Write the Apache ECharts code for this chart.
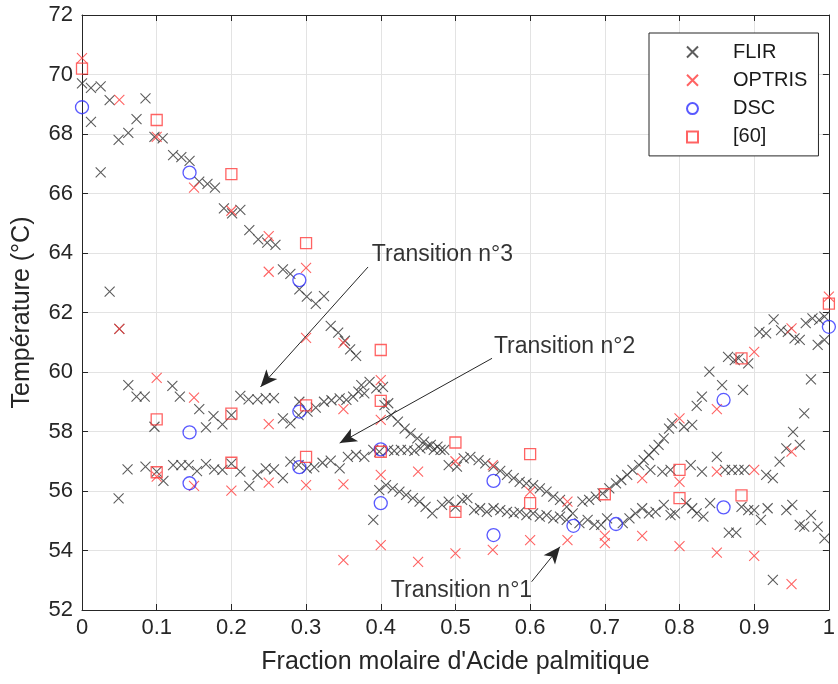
<!DOCTYPE html>
<html>
<head>
<meta charset="utf-8">
<script src="https://cdn.jsdelivr.net/npm/echarts@6/dist/echarts.min.js"></script>
<style>
html,body{margin:0;padding:0;background:#fff;}
#chart{width:838px;height:684px;}
</style>
</head>
<body>
<div id="chart"></div>
<script>
// ---------- DATA ----------
const seriesNames = ['FLIR', 'OPTRIS', 'DSC', '[60]'];

const flirData = [
  [0.0,69.7],[0.012,69.55],[0.025,69.6],[0.037,69.14],[0.012,68.41],[0.025,66.71],
  [0.049,67.8],[0.062,68.04],[0.073,68.5],[0.085,69.2],
  [0.097,67.9],[0.108,67.85],[0.122,67.29],[0.133,67.22],[0.144,67.1],
  [0.157,66.4],[0.168,66.32],[0.178,66.2],[0.19,65.5],[0.201,65.33],[0.212,65.45],
  [0.224,64.77],[0.236,64.46],[0.248,64.35],[0.259,64.27],[0.269,63.45],[0.279,63.3],
  [0.291,62.78],[0.301,62.53],[0.313,62.29],[0.324,62.55],
  [0.333,61.55],[0.343,61.32],[0.352,61.05],[0.359,60.76],[0.367,60.54],
  [0.037,62.7],[0.05,61.45],
  [0.062,59.56],[0.073,59.17],[0.084,59.17],[0.121,59.53],[0.131,59.17],
  [0.157,58.75],[0.176,58.52],
  [0.212,59.2],[0.223,59.08],[0.235,59.08],[0.246,59.12],[0.257,59.12],[0.291,59.0],
  [0.302,58.67],[0.313,58.8],[0.324,59.0],[0.334,59.05],[0.345,59.11],[0.354,59.06],
  [0.363,59.17],[0.37,59.34],[0.374,59.56],[0.378,59.28],[0.385,59.67],[0.394,59.45],
  [0.403,59.5],[0.41,58.95],
  [0.097,58.16],[0.166,58.14],[0.188,58.24],[0.2,58.55],[0.269,58.44],[0.279,58.27],[0.29,58.55],
  [0.405,58.89],[0.414,58.55],[0.423,58.33],[0.432,58.1],[0.44,57.94],[0.449,57.77],
  [0.458,57.66],[0.467,57.55],[0.476,57.49],[0.485,57.38],
  [0.049,55.75],[0.061,56.73],[0.085,56.82],[0.1,56.65],[0.109,56.34],[0.122,56.87],
  [0.133,56.87],[0.143,56.87],[0.154,56.67],[0.166,56.9],[0.177,56.73],[0.188,56.71],
  [0.2,56.92],[0.212,56.65],[0.224,56.17],[0.235,56.54],[0.246,56.76],[0.257,56.73],
  [0.269,56.43],[0.279,56.99],
  [0.29,56.87],[0.301,56.76],[0.311,56.8],[0.322,56.95],[0.333,57.02],[0.345,56.76],
  [0.356,57.15],[0.367,57.21],[0.378,57.15],[0.39,57.38],[0.398,57.32],[0.41,57.38],
  [0.418,57.35],[0.427,57.38],[0.436,57.38],[0.445,57.35],[0.453,57.43],[0.462,57.49],
  [0.471,57.38],[0.48,57.38],
  [0.491,56.87],[0.502,56.82],[0.511,57.1],[0.52,57.15],[0.531,57.04],[0.54,56.93],
  [0.551,56.82],[0.56,56.68],[0.569,56.54],[0.578,56.43],[0.586,56.31],[0.595,56.26],
  [0.604,56.2],[0.613,56.09],[0.622,55.98],[0.631,55.81],[0.64,55.7],[0.649,55.47],[0.657,55.25],
  [0.39,55.03],
  [0.398,56.03],[0.407,56.2],[0.416,56.09],[0.425,55.98],[0.434,55.87],[0.443,55.76],
  [0.452,55.64],[0.46,55.47],[0.469,55.25],[0.482,55.53],[0.491,55.64],[0.5,55.47],
  [0.509,55.7],[0.516,55.76],[0.525,55.36],[0.533,55.42],[0.542,55.3],[0.551,55.42],
  [0.56,55.36],[0.569,55.3],[0.578,55.25],[0.586,55.3],[0.595,55.19],[0.604,55.25],
  [0.613,55.14],[0.622,55.19],[0.631,55.08],[0.64,55.14],[0.649,55.03],
  [0.666,54.92],[0.677,55.03],[0.686,54.86],[0.695,54.86],[0.703,55.08],[0.724,54.92],
  [0.733,55.08],[0.741,55.25],[0.75,55.42],[0.759,55.25],[0.768,55.3],[0.779,55.53],
  [0.788,55.19],[0.794,55.25],[0.809,55.59],[0.817,55.42],[0.823,55.25],[0.832,55.14],
  [0.841,55.59],[0.866,54.6],[0.876,54.6],[0.883,55.47],[0.892,55.36],[0.9,55.36],
  [0.909,55.03],[0.918,55.42],[0.943,55.36],[0.951,55.53],[0.961,54.86],[0.967,54.8],
  [0.976,55.19],[0.985,54.8],[0.994,54.41],
  [0.67,55.64],[0.679,55.7],[0.688,55.81],[0.697,55.92],[0.706,56.09],[0.715,56.26],
  [0.722,56.37],[0.73,56.54],[0.737,56.71],[0.746,56.87],[0.752,57.04],[0.759,57.21],
  [0.766,57.38],[0.772,57.55],[0.779,57.77],[0.786,58.1],[0.79,58.27],[0.806,58.16],
  [0.817,58.22],[0.823,58.86],[0.83,59.17],[0.84,60.01],[0.857,59.56],[0.865,60.51],
  [0.874,60.4],[0.879,60.46],[0.892,60.29],[0.885,59.4],
  [0.761,56.71],[0.777,56.65],[0.788,56.71],[0.815,56.87],[0.83,56.65],[0.85,57.15],
  [0.861,56.71],[0.87,56.71],[0.879,56.71],[0.887,56.71],
  [0.916,56.54],[0.925,56.43],[0.934,56.99],[0.943,57.43],[0.952,57.99],[0.961,57.55],
  [0.967,58.61],[0.976,59.75],
  [0.907,61.35],[0.916,61.3],[0.926,61.77],[0.936,61.41],[0.945,61.35],[0.954,61.13],
  [0.961,61.08],[0.969,61.64],[0.978,61.8],[0.987,61.75],[0.994,61.86],[0.985,60.91],[0.994,61.08],
  [0.925,53.01]
];

const optrisData = [
  [0,70.55],[0.05,69.15],[0.05,61.45],[0.1,67.9],[0.1,59.8],[0.1,56.48],
  [0.15,66.2],[0.15,59.14],[0.15,56.17],[0.2,65.42],[0.2,56.01],
  [0.25,64.57],[0.25,63.37],[0.25,58.25],[0.25,56.28],
  [0.3,63.5],[0.3,61.15],[0.3,56.2],
  [0.35,60.98],[0.35,58.75],[0.35,56.22],[0.35,53.68],
  [0.4,59.73],[0.4,58.39],[0.4,56.54],[0.4,54.18],
  [0.45,56.65],[0.45,53.62],[0.5,57.0],[0.5,53.9],[0.55,56.87],[0.55,54.02],
  [0.6,55.98],[0.6,54.35],[0.65,55.64],[0.65,54.35],[0.7,54.5],[0.7,54.25],
  [0.75,56.43],[0.75,54.49],[0.8,58.44],[0.8,56.31],[0.8,54.15],
  [0.85,58.75],[0.85,56.65],[0.85,53.93],[0.9,60.68],[0.9,56.71],[0.9,53.82],
  [0.95,61.47],[0.95,57.32],[0.95,52.87],[1.0,62.53]
];

const dscData = [
  [0,68.9],[0.144,66.7],[0.144,57.97],[0.144,56.26],[0.291,63.09],[0.291,58.67],
  [0.291,56.8],[0.4,57.4],[0.4,55.59],[0.551,56.34],[0.551,54.52],[0.658,54.83],
  [0.715,54.89],[0.859,59.06],[0.859,55.45],[1.0,61.52]
];

const ref60Data = [
  [0,70.2],[0.1,68.47],[0.1,58.41],[0.1,56.63],[0.2,66.65],[0.2,58.6],[0.2,56.95],
  [0.3,64.33],[0.3,58.88],[0.3,57.15],[0.4,60.74],[0.4,59.03],[0.4,57.32],
  [0.5,57.63],[0.5,55.3],[0.6,57.24],[0.6,55.59],[0.7,55.89],[0.8,56.71],[0.8,55.76],
  [0.883,60.46],[0.883,55.85],[1.0,62.3]
];

// annotations (data coordinates)
const annotLabels = ['Transition n°3', 'Transition n°2', 'Transition n°1'];
const annotTextAt = [[0.388, 63.93], [0.5515, 60.84], [0.4135, 52.64]];
const annotArrowFrom = [[0.383, 63.53], [0.549, 60.46], [0.602, 52.95]];
const annotArrowTo = [[0.239, 59.5], [0.345, 57.61], [0.64, 54.13]];

// ---------- CHART ----------
const FONT = 'Liberation Sans, Arial, sans-serif';
const AX = '#262626';
const CROSS = 'path://M0,0L10,10M10,0L0,10';
const SQUARE = 'path://M0,0L10,0L10,10L0,10Z';

const chart = echarts.init(document.getElementById('chart'), null, {renderer: 'canvas'});

function markerSeries(name, data, symbol, size, color, width) {
  return {
    name: name, type: 'scatter', data: data,
    symbol: symbol, symbolSize: size,
    itemStyle: {color: 'rgba(0,0,0,0)', borderColor: color, borderWidth: width},
    emphasis: {disabled: true},
    clip: false,
    z: 3
  };
}

const arrowLines = annotArrowFrom.map((p, i) => [
  {coord: p}, {coord: annotArrowTo[i]}
]);

const option = {
  animation: false,
  backgroundColor: '#ffffff',
  textStyle: {fontFamily: FONT},
  grid: {left: 82, right: 3, top: 15, bottom: 74, containLabel: false},
  legend: {
    data: seriesNames,
    orient: 'vertical',
    left: 649, top: 33,
    padding: [9, 11, 9, 37],
    itemGap: 8.3,
    itemWidth: 11, itemHeight: 11,
    backgroundColor: '#ffffff',
    borderColor: AX, borderWidth: 1,
    textStyle: {fontFamily: FONT, fontSize: 20, color: '#1a1a1a', padding: [0, 0, 0, 30]},
    selectedMode: false
  },
  xAxis: [{
    type: 'value', min: 0, max: 1, interval: 0.1,
    name: "Fraction molaire d'Acide palmitique",
    nameLocation: 'middle', nameGap: 40,
    nameTextStyle: {fontFamily: FONT, fontSize: 25, color: AX},
    axisLine: {show: true, lineStyle: {color: AX, width: 1}},
    axisTick: {show: true, inside: true, length: 6, lineStyle: {color: AX}},
    axisLabel: {fontFamily: FONT, fontSize: 22, color: AX, margin: 7,
      formatter: v => String(+v.toFixed(1))},
    splitLine: {show: true, lineStyle: {color: '#e3e3e3', width: 1}}
  }, {
    type: 'value', min: 0, max: 1, interval: 0.1, position: 'top',
    axisLine: {show: true, onZero: false, lineStyle: {color: AX, width: 1}},
    axisTick: {show: true, inside: true, length: 6, lineStyle: {color: AX}},
    axisLabel: {show: false}, splitLine: {show: false}
  }],
  yAxis: [{
    type: 'value', min: 52, max: 72, interval: 2,
    name: 'Température (°C)',
    nameLocation: 'middle', nameGap: 47, nameRotate: 90,
    nameTextStyle: {fontFamily: FONT, fontSize: 25, color: AX},
    axisLine: {show: true, lineStyle: {color: AX, width: 1}},
    axisTick: {show: true, inside: true, length: 6, lineStyle: {color: AX}},
    axisLabel: {fontFamily: FONT, fontSize: 22, color: AX, margin: 9},
    splitLine: {show: true, lineStyle: {color: '#e3e3e3', width: 1}}
  }, {
    type: 'value', min: 52, max: 72, interval: 2, position: 'right',
    axisLine: {show: true, onZero: false, lineStyle: {color: AX, width: 1}},
    axisTick: {show: true, inside: true, length: 6, lineStyle: {color: AX}},
    axisLabel: {show: false}, splitLine: {show: false}
  }],
  series: [
    markerSeries('FLIR', flirData, CROSS, 10, '#333333', 1.1),
    markerSeries('OPTRIS', optrisData, CROSS, 10, '#ff3c3c', 1.1),
    markerSeries('DSC', dscData, 'circle', 13, '#3030ff', 1.3),
    markerSeries('[60]', ref60Data, SQUARE, 11, '#ff3c3c', 1.3),
    {
      name: 'annotations', type: 'scatter',
      data: annotTextAt.map((p, i) => ({value: p, name: annotLabels[i]})),
      symbolSize: 0, silent: true, clip: false, z: 10,
      label: {show: true, position: 'right', distance: 0,
        formatter: p => p.name,
        fontFamily: FONT, fontSize: 23, color: '#000000'},
      markLine: {
        silent: true, animation: false,
        symbol: ['none', 'arrow'], symbolSize: [11, 17],
        label: {show: false},
        lineStyle: {color: '#262626', width: 1, type: 'solid'},
        data: arrowLines
      }
    }
  ]
};
chart.setOption(option);
</script>
</body>
</html>
